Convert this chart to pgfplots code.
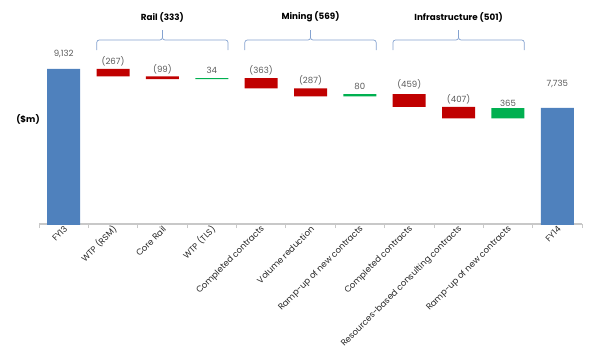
\documentclass[border=0pt]{standalone}
\usepackage{pgfplots}
\pgfplotsset{compat=1.18}
\usepackage{pgfplotstable}
\usepackage{fontspec}
\setmainfont{Poppins}
\definecolor{cblue}{HTML}{4F81BD}
\definecolor{cred}{HTML}{C00000}
\definecolor{cgreen}{HTML}{00B050}
\definecolor{bracecol}{RGB}{132,162,208}
\definecolor{axgray}{HTML}{C8C8C8}
\definecolor{lbl}{HTML}{595959}
\tikzset{
  vlab/.style={font=\fontsize{8.6}{10}\selectfont, text=lbl},
  glab/.style={font=\bfseries\fontsize{8.8}{10}\selectfont, text=black},
  brc/.style={draw=bracecol, line width=0.7bp, rounded corners=2.5bp},
}
\pgfplotstableread{
x base total dec inc
0 0 9132 0 0
1 8865 0 267 0
2 8766 0 99 0
3 8766 0 0 34
4 8437 0 363 0
5 8150 0 287 0
6 8150 0 0 80
7 7771 0 459 0
8 7364 0 407 0
9 7364 0 0 365
10 0 7735 0 0
}\wfdata
\begin{document}
\begin{tikzpicture}
\useasboundingbox (-39bp,-127bp) rectangle (561bp,224bp);
\begin{axis}[
  scale only axis, width=543bp, height=224bp,
  xmin=-0.5, xmax=10.5, ymin=3580, ymax=11599,
  ybar stacked, bar width=33bp,
  axis x line=bottom, axis y line=none,
  axis line style={-, axgray, line width=1.4bp},
  xtick={0,...,10}, major tick length=0pt,
  minor xtick={-0.5,0.5,...,10.5}, minor tick length=4bp,
  tick align=outside,
  minor tick style={axgray, line width=0.8bp},
  xticklabels={FY13,WTP (RSM),Core Rail,WTP (TLS),Completed contracts,Volume reduction,Ramp-up of new contracts,Completed contracts,Resources-based consulting contracts,Ramp-up of new contracts,FY14},
  xticklabel style={rotate=45, anchor=east, font=\fontsize{8.6}{10}\selectfont, text=black!85, inner sep=1pt, yshift=-4bp},
]
\addplot[fill=none, draw=none] table[x=x, y=base] {\wfdata};
\addplot[fill=cblue, draw=none] table[x=x, y=total] {\wfdata};
\addplot[fill=cred, draw=none] table[x=x, y=dec] {\wfdata};
\addplot[fill=cgreen, draw=none] table[x=x, y=inc] {\wfdata};
\node[vlab] at (axis cs:0,9666) {9,132};
\node[vlab] at (axis cs:1,9415) {(267)};
\node[vlab] at (axis cs:2,9129) {(99)};
\node[vlab] at (axis cs:3,9093) {34};
\node[vlab] at (axis cs:4,9093) {(363)};
\node[vlab] at (axis cs:5,8735) {(287)};
\node[vlab] at (axis cs:6,8520) {80};
\node[vlab] at (axis cs:7,8592) {(459)};
\node[vlab] at (axis cs:8,8055) {(407)};
\node[vlab] at (axis cs:9,7912) {365};
\node[vlab] at (axis cs:10,8592) {7,735};
\draw[brc] (axis cs:0.67,9809) -- (axis cs:0.67,10167) -- (axis cs:2,10167) -- (axis cs:2,10525);
\draw[brc] (axis cs:2,10525) -- (axis cs:2,10167) -- (axis cs:3.33,10167) -- (axis cs:3.33,9809);
\draw[brc] (axis cs:3.67,9809) -- (axis cs:3.67,10167) -- (axis cs:5,10167) -- (axis cs:5,10525);
\draw[brc] (axis cs:5,10525) -- (axis cs:5,10167) -- (axis cs:6.33,10167) -- (axis cs:6.33,9809);
\draw[brc] (axis cs:6.67,9809) -- (axis cs:6.67,10167) -- (axis cs:8,10167) -- (axis cs:8,10525);
\draw[brc] (axis cs:8,10525) -- (axis cs:8,10167) -- (axis cs:9.33,10167) -- (axis cs:9.33,9809);
\node[glab] at (axis cs:2,10991) {Rail (333)};
\node[glab] at (axis cs:5,10991) {Mining (569)};
\node[glab] at (axis cs:8,10991) {Infrastructure (501)};
\end{axis}
\node[glab] at (-11bp,105bp) {(\$m)};
\end{tikzpicture}
\end{document}
